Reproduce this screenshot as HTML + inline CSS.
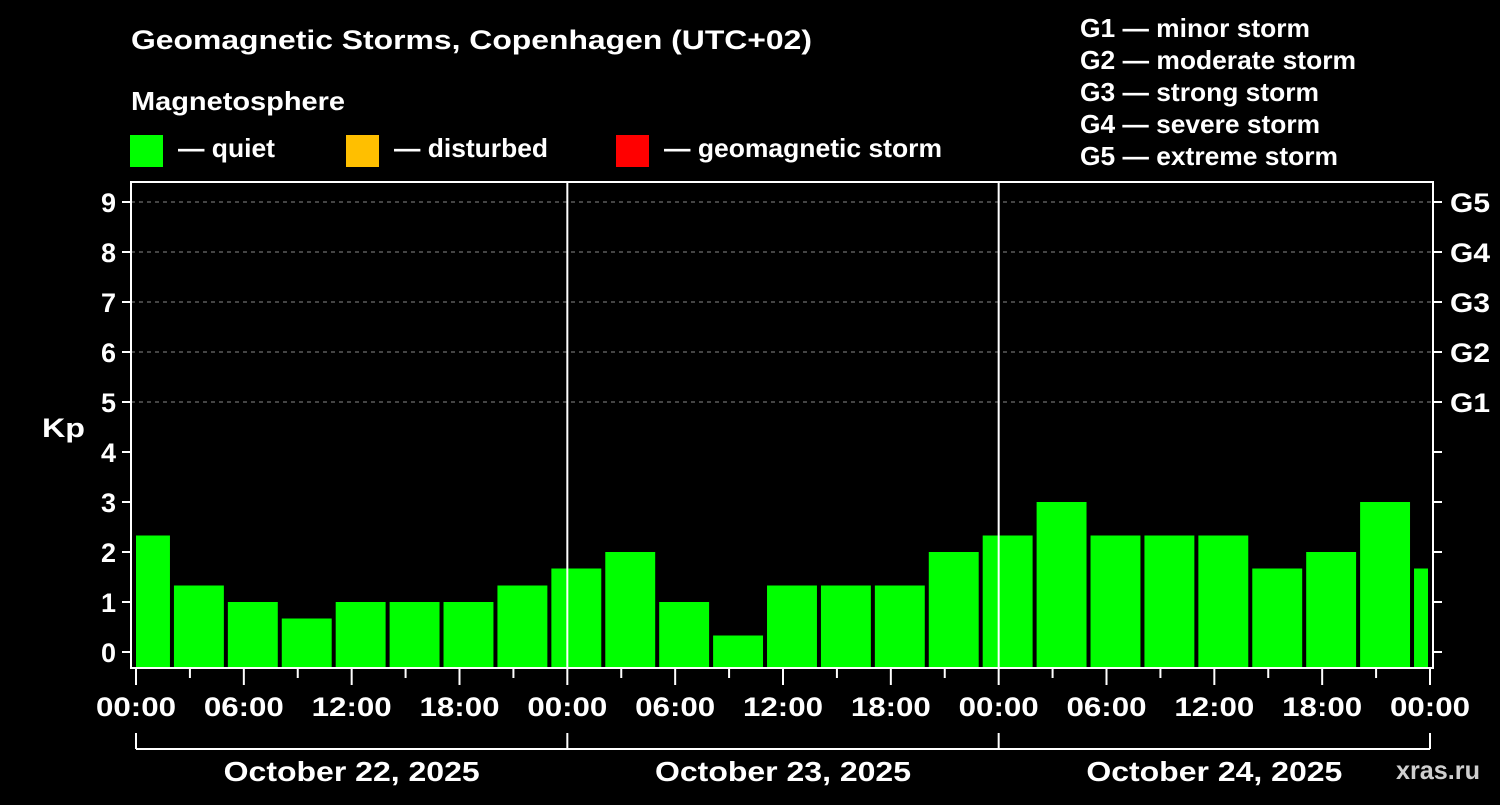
<!DOCTYPE html>
<html><head><meta charset="utf-8"><style>
body{margin:0;background:#000;}
svg text{font-family:"Liberation Sans",Arial,sans-serif;font-weight:bold;fill:#fff;}
</style></head><body>
<svg width="1500" height="800" viewBox="0 0 1500 800" xmlns="http://www.w3.org/2000/svg">
<rect width="1500" height="800" fill="#000"/>
<text x="131" y="49" font-size="27" textLength="681" lengthAdjust="spacingAndGlyphs">Geomagnetic Storms, Copenhagen (UTC+02)</text>
<text x="131" y="110" font-size="26" textLength="214" lengthAdjust="spacingAndGlyphs">Magnetosphere</text>
<rect x="130" y="135" width="33" height="32" fill="#00ff00"/>
<text x="178" y="157" font-size="26" textLength="97" lengthAdjust="spacingAndGlyphs">— quiet</text>
<rect x="346" y="135" width="33" height="32" fill="#ffbf00"/>
<text x="394" y="157" font-size="26" textLength="154" lengthAdjust="spacingAndGlyphs">— disturbed</text>
<rect x="616" y="135" width="33" height="32" fill="#ff0000"/>
<text x="664" y="157" font-size="26" textLength="278" lengthAdjust="spacingAndGlyphs">— geomagnetic storm</text>
<g font-size="26">
<text x="1080" y="37" textLength="230" lengthAdjust="spacingAndGlyphs">G1 — minor storm</text>
<text x="1080" y="69" textLength="276" lengthAdjust="spacingAndGlyphs">G2 — moderate storm</text>
<text x="1080" y="101" textLength="239" lengthAdjust="spacingAndGlyphs">G3 — strong storm</text>
<text x="1080" y="133" textLength="240" lengthAdjust="spacingAndGlyphs">G4 — severe storm</text>
<text x="1080" y="165" textLength="258" lengthAdjust="spacingAndGlyphs">G5 — extreme storm</text>
</g>
<text x="42" y="437" font-size="27" textLength="43" lengthAdjust="spacingAndGlyphs">Kp</text>
<text x="1396" y="779" font-size="26" textLength="84" lengthAdjust="spacingAndGlyphs" style="fill:#cfcfcf">xras.ru</text>
<g id="plot"></g>
</svg>
<script>
const kpValues=[2.33,1.33,1,0.67,1,1,1,1.33,1.67,2,1,0.33,1.33,1.33,1.33,2,2.33,3,2.33,2.33,2.33,1.67,2,3,1.67];
const dayLabels=["October 22, 2025","October 23, 2025","October 24, 2025"];
const hourLabels=["00:00","06:00","12:00","18:00"];
const gLabels=["G1","G2","G3","G4","G5"];
const yTicks=[0,1,2,3,4,5,6,7,8,9];
const NS="http://www.w3.org/2000/svg";
const g=document.getElementById('plot');
const x0=136,x1=1430,totalH=72;
const xS=h=>x0+(x1-x0)*h/totalH;
const yS=v=>652-50*v;
const L=131,R=1433,T=182,B=668;
function el(t,a){const e=document.createElementNS(NS,t);for(const k in a)e.setAttribute(k,a[k]);g.appendChild(e);return e;}
[5,6,7,8,9].forEach(v=>{const l=el('line',{x1:L,x2:R,y1:yS(v),y2:yS(v),stroke:'#888','stroke-dasharray':'4,4'});

});
kpValues.forEach((v,i)=>{const s=Math.max(-1+3*i,0),e=Math.min(2+3*i,totalH);
let xa=xS(s)+(i===0?0:2),xb=xS(e)-2;
const c=v>=5?'#ff0000':(v>=4?'#ffbf00':'#00ff00');
const r=el('rect',{x:xa,y:yS(v),width:Math.max(xb-xa,1),height:B-yS(v),fill:c});

});
[1,2].forEach(d=>{const l=el('line',{x1:xS(24*d),x2:xS(24*d),y1:T,y2:B,stroke:'#fff','stroke-width':2});

});
const f=el('rect',{x:L,y:T,width:R-L,height:B-T,fill:'none',stroke:'#fff','stroke-width':2});


yTicks.forEach(v=>{el('line',{x1:122,x2:L,y1:yS(v),y2:yS(v),stroke:'#fff','stroke-width':2});
el('line',{x1:R,x2:1442,y1:yS(v),y2:yS(v),stroke:'#fff','stroke-width':2});
const t=el('text',{x:116,y:yS(v)+10,'font-size':27,'text-anchor':'end'});t.textContent=v;

});
gLabels.forEach((s,i)=>{const t=el('text',{x:1450,y:yS(5+i)+10,'font-size':27,textLength:40,lengthAdjust:'spacingAndGlyphs'});t.textContent=s;

});
for(let h=0;h<=totalH;h+=3){const maj=h%6===0;
el('line',{x1:xS(h),x2:xS(h),y1:B,y2:maj?685:678,stroke:'#fff','stroke-width':2});
if(maj){const t=el('text',{x:xS(h)-40,y:716,'font-size':27,textLength:80,lengthAdjust:'spacingAndGlyphs'});t.textContent=hourLabels[(h/6)%4];

}}
el('line',{x1:x0,x2:x1,y1:749,y2:749,stroke:'#fff','stroke-width':2});
for(let d=0;d<=3;d++)el('line',{x1:xS(24*d),x2:xS(24*d),y1:733,y2:749,stroke:'#fff','stroke-width':2});
dayLabels.forEach((s,d)=>{const t=el('text',{x:xS(24*d+12)-128,y:781,'font-size':28,textLength:256,lengthAdjust:'spacingAndGlyphs'});t.textContent=s;

});
</script>
</body></html>
